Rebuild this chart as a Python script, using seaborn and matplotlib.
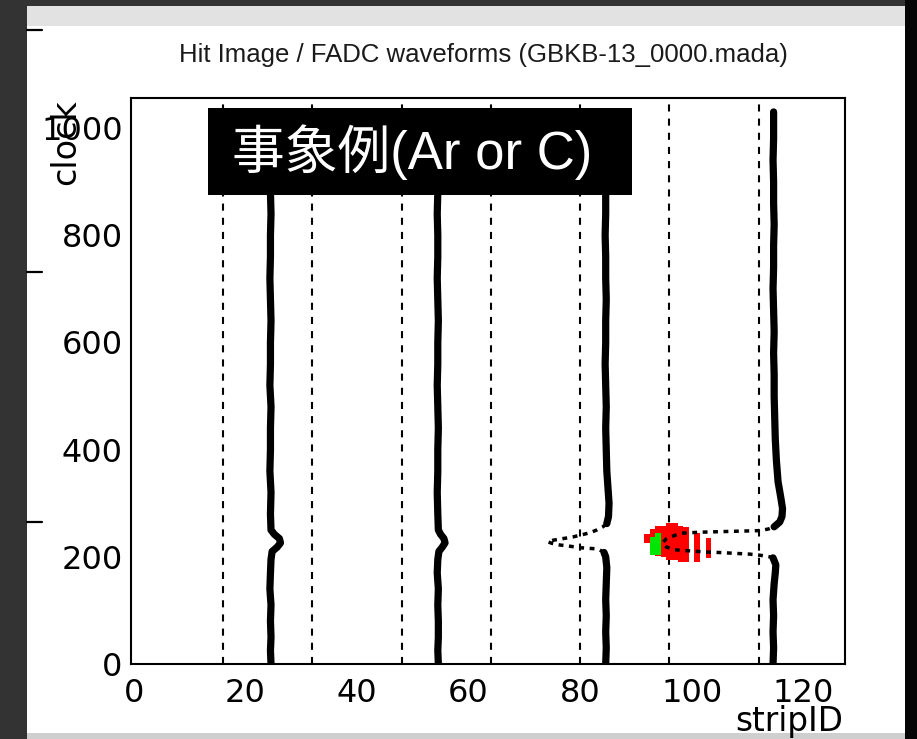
import matplotlib
matplotlib.use("Agg")
import matplotlib.pyplot as plt
import seaborn as sns
from matplotlib.patches import Rectangle
from matplotlib.lines import Line2D
from matplotlib.ticker import MultipleLocator

# ---------------- data ----------------
title = "Hit Image / FADC waveforms (GBKB-13_0000.mada)"
annotation = "事象例(Ar or C)"
x_label = "stripID"
y_label = "clock"
x_ticks = [0, 20, 40, 60, 80, 100, 120]
y_ticks = [0, 200, 400, 600, 800, 1000]
board_edges = [16, 32, 48, 64, 80, 96, 112]

# waveform 1 (around strip 24.5) - small positive bump
w1_clock = [0, 25, 50, 80, 110, 140, 170, 195, 210, 218, 226, 234, 242, 250, 280, 320, 360,
            400, 440, 480, 520, 560, 600, 640, 680, 720, 760, 800, 840, 880, 920, 960, 1000, 1024]
w1_strip = [24.6, 24.5, 24.6, 24.5, 24.6, 24.4, 24.5, 24.6, 24.8, 25.7, 26.3, 26.1, 25.2, 24.6,
            24.5, 24.6, 24.4, 24.5, 24.5, 24.6, 24.4, 24.5, 24.5, 24.6, 24.5, 24.4, 24.5, 24.5,
            24.6, 24.5, 24.4, 24.5, 24.5, 24.5]

# waveform 2 (around strip 54.5) - small positive bump
w2_clock = [0, 25, 50, 80, 110, 140, 170, 195, 210, 218, 226, 234, 242, 250, 280, 320, 360,
            400, 440, 480, 520, 560, 600, 640, 680, 720, 760, 800, 840, 880, 920, 960, 1000, 1024]
w2_strip = [54.6, 54.5, 54.6, 54.6, 54.5, 54.6, 54.4, 54.5, 54.7, 55.3, 55.8, 55.6, 55.0, 54.6,
            54.5, 54.4, 54.5, 54.5, 54.6, 54.5, 54.4, 54.5, 54.5, 54.6, 54.5, 54.4, 54.5, 54.5,
            54.4, 54.5, 54.5, 54.6, 54.5, 54.5]

# waveform 3 (around strip 84.6) - negative spike
w3_lo_clock = [0, 30, 60, 90, 120, 150, 180, 200, 208]
w3_lo_strip = [84.6, 84.7, 84.6, 84.7, 84.6, 84.7, 84.8, 84.6, 84.3]
w3_spike_clock = [208, 213, 215, 217, 220, 222, 225, 228, 231, 233, 237, 241, 245, 250, 256, 262]
w3_spike_strip = [84.3, 83.5, 82.7, 80.0, 78.0, 76.4, 75.0, 74.2, 75.2, 76.4, 78.7, 80.3, 81.8,
                  83.0, 84.1, 84.8]
w3_hi_clock = [262, 275, 300, 330, 360, 400, 440, 480, 520, 560, 600, 640, 680, 720, 760, 800,
               840, 880, 920, 960, 1000, 1024]
w3_hi_strip = [84.8, 85.1, 85.2, 85.0, 84.8, 84.7, 84.6, 84.7, 84.6, 84.5, 84.6, 84.6, 84.7,
               84.6, 84.6, 84.5, 84.6, 84.6, 84.7, 84.6, 84.6, 84.6]

# waveform 4 (around strip 114.6) - large negative spike
w4_lo_clock = [0, 30, 60, 90, 120, 150, 170, 185, 198]
w4_lo_strip = [114.6, 114.7, 114.6, 114.7, 114.6, 114.8, 115.0, 115.1, 114.6]
w4_spike_clock = [198, 200, 203, 205, 206, 207, 208, 209, 211, 213, 218, 226, 234, 240, 244,
                  245, 246, 246.5, 247, 247.5, 248, 248.5, 249, 252, 256]
w4_spike_strip = [114.6, 114.0, 112.2, 110.4, 108.6, 106.8, 105.0, 102.5, 99.8, 97.0, 95.5,
                  94.8, 95.5, 97.0, 98.0, 99.8, 101.9, 103.7, 105.5, 107.3, 109.1, 111.0,
                  112.4, 113.8, 114.8]
w4_hi_clock = [256, 265, 275, 290, 310, 340, 380, 420, 460, 500, 540, 580, 620, 660, 700, 740,
               780, 820, 860, 900, 940, 980, 1030]
w4_hi_strip = [114.8, 115.8, 116.2, 116.3, 116.0, 115.5, 115.2, 115.0, 114.9, 114.8, 114.8,
               114.7, 114.8, 114.7, 114.6, 114.7, 114.7, 114.8, 114.7, 114.7, 114.6, 114.7, 114.7]

# hit image (red cells): strip, clock low, clock high
hit_strip = [92, 93, 94, 95, 96, 97, 98, 99, 101, 103]
hit_lo = [226, 204, 202, 200, 194, 194, 190, 190, 190, 198]
hit_hi = [242, 252, 258, 258, 264, 264, 258, 256, 245, 236]

# green cells
green_strip = [93, 94]
green_lo = [204, 204]
green_hi = [237, 245]

# ---------------- style ----------------
sns.set_theme(style="white")
plt.rcParams["font.family"] = ["DejaVu Sans"]

W, H = 917, 739
fig = plt.figure(figsize=(W / 100, H / 100), dpi=100)
fig.patch.set_facecolor("#333333")

def fx(px):
    return px / W

def fy(py):
    return (H - py) / H

# white panel, grey bands, borders
fig.add_artist(Rectangle((fx(27), fy(735)), fx(905) - fx(27), fy(6) - fy(735),
                         transform=fig.transFigure, facecolor="white", edgecolor="none", zorder=-10))
fig.add_artist(Rectangle((fx(27), fy(26)), fx(905) - fx(27), fy(6) - fy(26),
                         transform=fig.transFigure, facecolor="#e2e2e2", edgecolor="none", zorder=-9))
fig.add_artist(Rectangle((fx(27), 0), fx(905) - fx(27), fy(733),
                         transform=fig.transFigure, facecolor="#cfcfcf", edgecolor="none", zorder=-9))
fig.add_artist(Rectangle((fx(905), 0), 1 - fx(905), 1,
                         transform=fig.transFigure, facecolor="#050505", edgecolor="none", zorder=-9))
for py in (30, 272, 522):
    fig.add_artist(Line2D([fx(27), fx(42)], [fy(py), fy(py)], transform=fig.transFigure,
                          color="black", lw=1.6, zorder=-8))

ax = fig.add_axes([fx(131), fy(664), fx(845) - fx(131), fy(98) - fy(664)])
ax.set_facecolor("white")

# board boundaries
for b in board_edges:
    ax.axvline(b, color="black", lw=1.5, ls=(0, (3.4, 3.4)), zorder=2)

# hit image
ax.bar(hit_strip, [h - l for h, l in zip(hit_hi, hit_lo)], bottom=hit_lo, width=1.0,
       color="#ff0000", linewidth=0, zorder=3)
ax.bar(green_strip, [h - l for h, l in zip(green_hi, green_lo)], bottom=green_lo, width=1.0,
       color="#00e600", linewidth=0, zorder=3.1)

# waveforms
kw_body = dict(sort=False, estimator=None, color="black", lw=5.2, ax=ax, zorder=4)
kw_spike = dict(sort=False, estimator=None, color="black", lw=2.5, ax=ax, zorder=4,
                linestyle=(0, (1.4, 1.6)))
sns.lineplot(x=w1_strip, y=w1_clock, **kw_body)
sns.lineplot(x=w2_strip, y=w2_clock, **kw_body)
sns.lineplot(x=w3_lo_strip, y=w3_lo_clock, **kw_body)
sns.lineplot(x=w3_spike_strip, y=w3_spike_clock, **kw_spike)
sns.lineplot(x=w3_hi_strip, y=w3_hi_clock, **kw_body)
sns.lineplot(x=w4_lo_strip, y=w4_lo_clock, **kw_body)
sns.lineplot(x=w4_spike_strip, y=w4_spike_clock, **kw_spike)
sns.lineplot(x=w4_hi_strip, y=w4_hi_clock, **kw_body)

ax.set_xlim(-0.5, 127.5)
ax.set_ylim(0, 1056)
ax.set_xticks(x_ticks)
ax.set_yticks(y_ticks)
ax.xaxis.set_minor_locator(MultipleLocator(5))
ax.yaxis.set_minor_locator(MultipleLocator(50))
ax.set_xticklabels([str(t) for t in x_ticks])
ax.set_yticklabels([str(t) for t in y_ticks])
ax.set_xlabel("")
ax.set_ylabel("")

for s in ax.spines.values():
    s.set_color("black")
    s.set_linewidth(1.5)
    s.set_visible(True)

ax.tick_params(axis="both", which="both", direction="in", top=False, right=False,
               colors="black", width=1.4)
ax.tick_params(axis="x", which="major", length=12.2, pad=10, labelsize=23)
ax.tick_params(axis="x", which="minor", length=5.4)
ax.tick_params(axis="y", which="major", length=16.5, pad=6, labelsize=23)
ax.tick_params(axis="y", which="minor", length=9.4)

# axis titles (ROOT style, at the axis ends)
ax.text(-0.092, 0.997, y_label, transform=ax.transAxes, rotation=90, ha="center", va="top",
        fontsize=24, color="black")
ax.text(0.997, -0.072, x_label, transform=ax.transAxes, ha="right", va="top",
        fontsize=23.5, color="black")

# title
fig.text(fx(483), fy(55), title, ha="center", va="center", fontsize=18.5,
         family=["Liberation Sans", "DejaVu Sans"], color="#1a1a1a")

# black annotation box
ax.add_patch(Rectangle(((208 - 131) / 714, (664 - 195) / 566), 424 / 714, 87 / 566,
                       transform=ax.transAxes, facecolor="black", edgecolor="none", zorder=6))
ax.text((232 - 131) / 714, (664 - 152) / 566, annotation, transform=ax.transAxes,
        ha="left", va="center", fontsize=38, color="white", zorder=7,
        family=["Liberation Sans", "Noto Sans CJK JP"])

fig.savefig("out.png", dpi=100, facecolor=fig.get_facecolor())
